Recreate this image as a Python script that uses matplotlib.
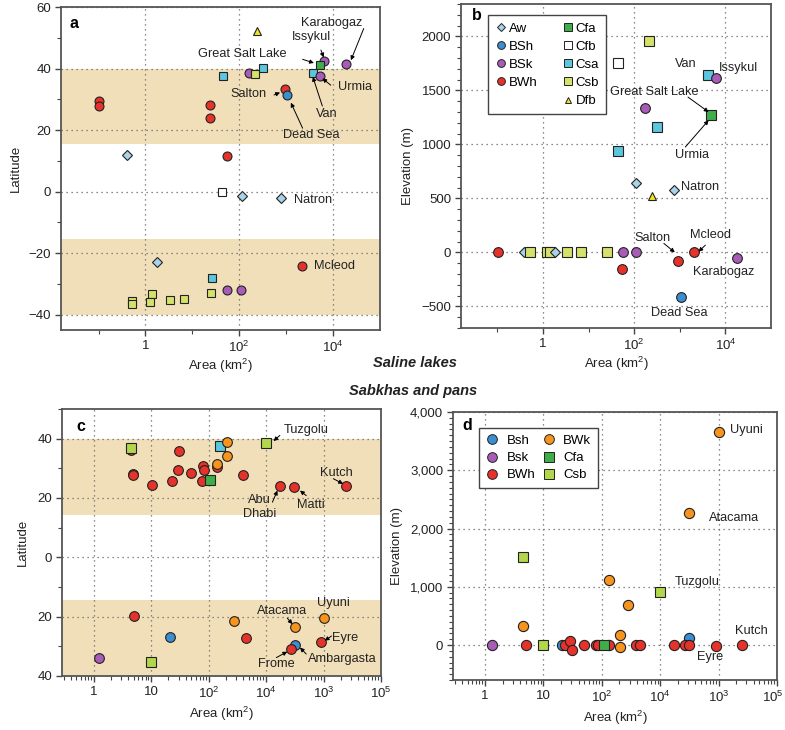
import matplotlib
matplotlib.use("Agg")
import matplotlib.pyplot as plt
import matplotlib.transforms as mtransforms
from matplotlib.ticker import FixedLocator, NullFormatter, FixedFormatter, MultipleLocator, LogLocator
from matplotlib.lines import Line2D

plt.rcParams['font.family'] = ['Liberation Sans', 'DejaVu Sans']
plt.rcParams['mathtext.fontset'] = 'custom'
plt.rcParams['mathtext.rm'] = 'Liberation Sans'
plt.rcParams['mathtext.it'] = 'Liberation Sans:italic'
plt.rcParams['mathtext.bf'] = 'Liberation Sans:bold'

# ---------------- styles per climate class ----------------
STYLE = {
    'Aw':  dict(marker='D', color='#a9d3ea', size=5.0),
    'BSh': dict(marker='o', color='#3b8ed0', size=7.0),
    'BSk': dict(marker='o', color='#a85cb8', size=7.0),
    'BWh': dict(marker='o', color='#e5322b', size=7.0),
    'BWk': dict(marker='o', color='#f7941d', size=7.0),
    'Cfa': dict(marker='s', color='#3fae4a', size=7.0),
    'Cfb': dict(marker='s', color='#ffffff', size=7.0),
    'Csa': dict(marker='s', color='#5cc6de', size=7.0),
    'Csb': dict(marker='s', color='#d4e26c', size=7.0),
    'Dfb': dict(marker='^', color='#f0e424', size=6.0),
}
CSB_CD = '#b2d64c'

# ---------------- data: panel a (saline lakes, latitude) ----------------
a_class = ['BWh', 'BWh', 'BWh', 'BWh', 'BWh', 'Aw', 'Cfb', 'Aw', 'Aw', 'Csa', 'BSk',
           'Csb', 'Csa', 'Dfb', 'BWh', 'BSh', 'Csa', 'BSk', 'BSk', 'Cfa', 'BSk',
           'Aw', 'BWh', 'Csa', 'Csb', 'BSk', 'BSk', 'Csb', 'Csb', 'Csb', 'Csb', 'Csb', 'Csb']
a_area = [0.1, 0.1, 24, 24, 55, 0.41, 43, 115, 790, 45, 162,
          219, 324, 240, 955, 1020, 3700, 6300, 5250, 5250, 18600,
          1.8, 2140, 26, 25, 55, 110, 0.51, 0.51, 1.35, 1.23, 3.4, 6.8]
a_lat = [29.5, 27.8, 28.2, 24.0, 11.7, 11.9, -0.3, -1.6, -2.0, 37.5, 38.7,
         38.2, 40.1, 52.2, 33.3, 31.4, 38.7, 42.5, 37.6, 41.3, 41.4,
         -22.9, -24.1, -28.1, -33.0, -31.9, -31.9, -35.5, -36.4, -33.3, -36.0, -35.1, -34.8]

# ---------------- data: panel b (saline lakes, elevation) ----------------
b_class = ['BWh', 'Aw', 'Csb', 'Csb', 'Csb', 'Aw', 'Csb', 'Csb', 'Csb', 'BSk', 'BSk',
           'BWh', 'BWh', 'BWh', 'BSk', 'BSh', 'Csb', 'Cfb', 'Csa', 'BSk', 'BSk',
           'Cfa', 'Csa', 'Csa', 'Aw', 'Aw', 'Dfb']
b_area = [0.105, 0.38, 0.52, 1.2, 1.45, 1.82, 3.3, 6.8, 25.7, 56, 110,
          55, 910, 2040, 17800, 1050, 214, 43, 4100, 6200, 170,
          4900, 316, 45, 110, 760, 240]
b_elev = [0, 0, 0, 0, 0, 0, 0, 0, 0, 0, 0,
          -154, -78, 0, -55, -416, 1953, 1752, 1641, 1617, 1340,
          1275, 1158, 939, 643, 582, 523]

# ---------------- data: panel c (sabkhas and pans, latitude) ----------------
c_class = ['BWh', 'Csb', 'BWh', 'BWh', 'BWh', 'BWh', 'BWh', 'BWh', 'BWh', 'BWh', 'BWh',
           'BWh', 'Cfa', 'BWh', 'BWk', 'Csa', 'BWk', 'BWk', 'BWh', 'Csb', 'BWh', 'BWh', 'BWh',
           'BWh', 'BSk', 'Csb', 'BSh', 'BWk', 'BWh', 'BWk', 'BWk', 'BSh', 'BWh', 'BWh']
c_area = [4.5, 4.5, 4.9, 4.9, 10.2, 23, 29, 31, 50, 78, 79,
          83, 107, 138, 138, 155, 209, 209, 390, 1000, 1740, 3020, 25000,
          5, 1.26, 10, 21, 275, 457, 3160, 10000, 3160, 2690, 8900]
c_lat = [36.3, 37.0, 28.2, 27.6, 24.3, 25.8, 29.6, 36.0, 28.5, 25.6, 30.9,
         29.3, 26.1, 30.6, 31.5, 37.5, 39.0, 34.3, 27.8, 38.6, 24.0, 23.6, 23.9,
         -19.9, -34.0, -35.2, -26.7, -21.3, -27.1, -23.6, -20.3, -29.5, -31.0, -28.7]

# ---------------- data: panel d (sabkhas and pans, elevation) ----------------
d_class = ['BWk', 'BWk', 'BWk', 'BWk', 'BWk', 'BWk', 'Csb', 'Csb', 'Csb', 'BSh', 'BSh',
           'BSk', 'BWh', 'BWh', 'BWh', 'BWh', 'BWh', 'BWh', 'BWh', 'BWh', 'BWh', 'BWh',
           'BWh', 'BWh', 'BWh', 'BWh', 'Cfa', 'BWk', 'BWh']
d_area = [10000, 3160, 135, 275, 4.5, 204, 4.5, 1000, 9.8, 3160, 20.4,
          1.32, 5, 23, 29, 31, 50, 78, 85, 132, 380, 457,
          1700, 2690, 3090, 8900, 110, 204, 25000]
d_elev = [3658, 2262, 1111, 685, 322, 178, 1508, 910, 0, 121, 0,
          0, 0, 0, 70, -81, 0, 0, 0, 0, 0, 0,
          0, 0, 0, -15, 0, -40, 0]

# ---------------- labels: (text, x, y, ha) and arrows (tail, head) ----------------
a_labels = [('Karabogaz', 9300, 54.8, 'center'), ('Issykul', 3400, 50.3, 'center'),
            ('Great Salt Lake', 115, 44.7, 'center'), ('Urmia', 29000, 33.9, 'center'),
            ('Salton', 160, 31.6, 'center'), ('Van', 7400, 25.2, 'center'),
            ('Dead Sea', 3500, 18.4, 'center'), ('Natron', 1500, -2.9, 'left'),
            ('Mcleod', 4000, -24.3, 'left')]
a_arrows = [((45000, 53), (24000, 42.7)), ((5500, 46), (6300, 43.6)),
            ((2240, 43), (3900, 41.8)), ((8900, 34.6), (5900, 36.8)),
            ((550, 31.4), (740, 32.2)), ((5900, 27.8), (3700, 37.3)),
            ((2240, 20.6), (1260, 28.9))]
b_labels = [('Van', 1380, 1746, 'center'), ('Issykul', 19000, 1706, 'center'),
            ('Great Salt Lake', 270, 1484, 'center'), ('Urmia', 1860, 899, 'center'),
            ('Natron', 1070, 606, 'left'), ('Salton', 245, 135, 'center'),
            ('Mcleod', 4800, 160, 'center'), ('Karabogaz', 9100, -179, 'center'),
            ('Dead Sea', 955, -558, 'center')]
b_arrows = [((1510, 1438), (4270, 1300)), ((1320, 976), (4270, 1223)),
            ((447, 83), (776, 0)), ((3630, 67), (2570, 6))]
c_labels = [('Tuzgolu', 2000, 43.0, 'left'), ('Kutch', 17000, 28.5, 'center'),
            ('Abu\nDhabi', 780, 17.0, 'center'), ('Matti', 5900, 17.5, 'center'),
            ('Uyuni', 14800, -15.4, 'center'), ('Atacama', 1860, -18.0, 'center'),
            ('Eyre', 13800, -27.2, 'left'), ('Ambargasta', 21400, -34.3, 'center'),
            ('Frome', 1510, -36.0, 'center')]
c_arrows = [((1740, 41.1), (1350, 39.2)), ((14800, 26.5), (21900, 24.8)),
            ((1290, 18.6), (1580, 22.5)), ((5000, 20.8), (3900, 22.5)),
            ((2340, -20.5), (2880, -22.5)), ((13800, -26.5), (10500, -28.1)),
            ((5000, -32.6), (3900, -30.4)), ((1510, -33.8), (2340, -31.8))]
d_labels = [('Uyuni', 15800, 3684, 'left'), ('Atacama', 18200, 2176, 'center'),
            ('Tuzgolu', 4270, 1077, 'center'), ('Kutch', 36300, 247, 'center'),
            ('Eyre', 7240, -213, 'center')]

FS = 9.5      # tick / axis label size
FA = 9.2      # annotation size

FIG_W, FIG_H = 785, 730
fig = plt.figure(figsize=(FIG_W / 100, FIG_H / 100), dpi=100)


def box(l, r, t, b):
    return [l / FIG_W, 1 - b / FIG_H, (r - l) / FIG_W, (b - t) / FIG_H]


ax_a = fig.add_axes(box(61, 380, 7, 330))
ax_b = fig.add_axes(box(461, 771, 4, 328))
ax_c = fig.add_axes(box(62, 381, 409, 676))
ax_d = fig.add_axes(box(453, 777, 412, 680))

BAND = '#f1dfb9'
SPINE = '#555555'
GRID = dict(linestyle=(0, (1, 3)), color='#666666', linewidth=0.9)
ARROW = dict(arrowstyle='-|>', color='black', lw=0.7, mutation_scale=6, shrinkA=0, shrinkB=0)


def style_axes(ax):
    for s in ax.spines.values():
        s.set_color(SPINE)
        s.set_linewidth(1.3)
    ax.tick_params(which='both', direction='out', colors='#444444', labelcolor='#222222', labelsize=FS)
    ax.tick_params(which='major', length=4, width=1, pad=3)
    ax.tick_params(which='minor', length=3, width=0.8)
    ax.set_axisbelow(True)


def scatter(ax, classes, xs, ys, scale=1.0, csb=None):
    for cls, x, y in zip(classes, xs, ys):
        st = STYLE[cls]
        col = st['color']
        if cls == 'Csb' and csb is not None:
            col = csb
        ax.plot([x], [y], linestyle='none', marker=st['marker'], markersize=st['size'] * scale,
                markerfacecolor=col, markeredgecolor='#222222', markeredgewidth=0.8, zorder=3)


def labels(ax, labs, arrows=()):
    for t, x, y, ha in labs:
        ax.text(x, y, t, ha=ha, va='center', fontsize=FA, color='#222222', zorder=5,
                linespacing=1.3)
    for tail, head in arrows:
        ax.annotate('', xy=head, xytext=tail, arrowprops=ARROW, zorder=5)


# ---------- panels a, b common ----------
for ax in (ax_a, ax_b):
    ax.set_xscale('log')
    ax.set_xlim(10 ** -1.8, 1e5)
    ax.xaxis.set_major_locator(FixedLocator([1, 1e2, 1e4]))
    ax.xaxis.set_major_formatter(FixedFormatter(['1', '$10^2$', '$10^4$']))
    ax.xaxis.set_minor_locator(FixedLocator([0.1, 10, 1e3]))
    ax.xaxis.set_minor_formatter(NullFormatter())
    style_axes(ax)
    ax.grid(True, which='major', **GRID)
    ax.set_xlabel('Area (km$^2$)', fontsize=FS, color='#222222', labelpad=1)

# ---------- panel a ----------
ax_a.set_ylim(-45, 60)
ax_a.yaxis.set_major_locator(MultipleLocator(20))
ax_a.yaxis.set_minor_locator(MultipleLocator(10))
ax_a.axhspan(15.4, 40, color=BAND, zorder=0, lw=0)
ax_a.axhspan(-40, -15.4, color=BAND, zorder=0, lw=0)
scatter(ax_a, a_class, a_area, a_lat, scale=0.92)
labels(ax_a, a_labels, a_arrows)
ax_a.set_ylabel('Latitude', fontsize=FS, color='#222222', labelpad=5)
ax_a.text(0.028, 0.95, 'a', transform=ax_a.transAxes, fontsize=11.5, fontweight='bold', va='center')

# ---------- panel b ----------
ax_b.set_ylim(-700, 2300)
ax_b.yaxis.set_major_locator(MultipleLocator(500))
ax_b.yaxis.set_minor_locator(MultipleLocator(100))
scatter(ax_b, b_class, b_area, b_elev)
labels(ax_b, b_labels, b_arrows)
ax_b.set_ylabel('Elevation (m)', fontsize=FS, color='#222222', labelpad=5)
ax_b.text(0.035, 0.963, 'b', transform=ax_b.transAxes, fontsize=11.5, fontweight='bold', va='center')

leg_b_names = ['Aw', 'BSh', 'BSk', 'BWh', None, 'Cfa', 'Cfb', 'Csa', 'Csb', 'Dfb']
handles = []
names = []
for n in leg_b_names:
    if n is None:
        handles.append(Line2D([], [], linestyle='none'))
        names.append('')
    else:
        st = STYLE[n]
        handles.append(Line2D([], [], linestyle='none', marker=st['marker'],
                              markersize=st['size'] * 0.8, markerfacecolor=st['color'],
                              markeredgecolor='#222222', markeredgewidth=0.7))
        names.append(n)
leg = ax_b.legend(handles, names, ncol=2, loc='upper left', bbox_to_anchor=(0.087, 0.966),
                  borderaxespad=0, fancybox=False, framealpha=1, edgecolor='#444444',
                  fontsize=FS, handletextpad=0.15, columnspacing=1.8, handlelength=0.9,
                  labelspacing=0.45, borderpad=0.55)
leg.get_frame().set_linewidth(1.0)

# ---------- panels c, d common ----------
for ax in (ax_c, ax_d):
    ax.set_xscale('log')
    ax.set_xlim(10 ** -0.55, 1e5)
    ax.xaxis.set_major_locator(FixedLocator([1, 10, 1e2, 1e3, 1e4, 1e5]))
    ax.xaxis.set_major_formatter(FixedFormatter(['1', '10', '$10^2$', '$10^4$', '$10^3$', '$10^5$']))
    ax.xaxis.set_minor_locator(LogLocator(base=10, subs=range(2, 10), numticks=20))
    ax.xaxis.set_minor_formatter(NullFormatter())
    style_axes(ax)
    ax.grid(True, which='major', **GRID)
    ax.set_xlabel('Area (km$^2$)', fontsize=FS, color='#222222', labelpad=3)

# ---------- panel c ----------
ax_c.set_ylim(-40, 50)
ax_c.yaxis.set_major_locator(FixedLocator([-40, -20, 0, 20, 40]))
ax_c.yaxis.set_major_formatter(FixedFormatter(['40', '20', '0', '20', '40']))
ax_c.yaxis.set_minor_locator(MultipleLocator(10))
ax_c.axhspan(14.4, 40, color=BAND, zorder=0, lw=0)
ax_c.axhspan(-40, -14.4, color=BAND, zorder=0, lw=0)
scatter(ax_c, c_class, c_area, c_lat, csb=CSB_CD)
labels(ax_c, c_labels, c_arrows)
ax_c.set_ylabel('Latitude', fontsize=FS, color='#222222', labelpad=6)
ax_c.text(0.044, 0.936, 'c', transform=ax_c.transAxes, fontsize=11.5, fontweight='bold', va='center')

# ---------- panel d ----------
ax_d.set_ylim(-600, 4000)
ax_d.yaxis.set_major_locator(FixedLocator([0, 1000, 2000, 3000, 4000]))
ax_d.yaxis.set_major_formatter(FixedFormatter(['0', '1,000', '2,000', '3,000', '4,000']))
ax_d.yaxis.set_minor_locator(MultipleLocator(100))
scatter(ax_d, d_class, d_area, d_elev, scale=1.05, csb=CSB_CD)
labels(ax_d, d_labels)
ax_d.set_ylabel('Elevation (m)', fontsize=FS, color='#222222', labelpad=5)
ax_d.text(0.03, 0.95, 'd', transform=ax_d.transAxes, fontsize=11.5, fontweight='bold', va='center')

leg_d_names = ['BSh', 'BSk', 'BWh', 'BWk', 'Cfa', 'Csb']
leg_d_text = ['Bsh', 'Bsk', 'BWh', 'BWk', 'Cfa', 'Csb']
hd = []
for n in leg_d_names:
    st = STYLE[n]
    col = CSB_CD if n == 'Csb' else st['color']
    hd.append(Line2D([], [], linestyle='none', marker=st['marker'], markersize=7,
                     markerfacecolor=col, markeredgecolor='#222222', markeredgewidth=0.7))
leg2 = ax_d.legend(hd, leg_d_text, ncol=2, loc='upper left', bbox_to_anchor=(0.080, 0.940),
                   borderaxespad=0, fancybox=False, framealpha=1, edgecolor='#444444',
                   fontsize=FS, handletextpad=0.6, columnspacing=0.5, handlelength=1.0,
                   labelspacing=0.38, borderpad=0.5)
leg2.get_frame().set_linewidth(1.0)

# keep the last tick label of panel d inside the figure
fig.canvas.draw()
last = ax_d.get_xticklabels()[-1]
last.set_transform(last.get_transform() + mtransforms.ScaledTranslation(-4 / 100, 0, fig.dpi_scale_trans))

# section titles
fig.text(415 / FIG_W, 1 - 363 / FIG_H, 'Saline lakes', ha='center', va='center',
         fontsize=10.5, fontweight='bold', fontstyle='italic', color='#222222')
fig.text(413 / FIG_W, 1 - 391 / FIG_H, 'Sabkhas and pans', ha='center', va='center',
         fontsize=10.5, fontweight='bold', fontstyle='italic', color='#222222')

fig.savefig('out.png', dpi=100)
